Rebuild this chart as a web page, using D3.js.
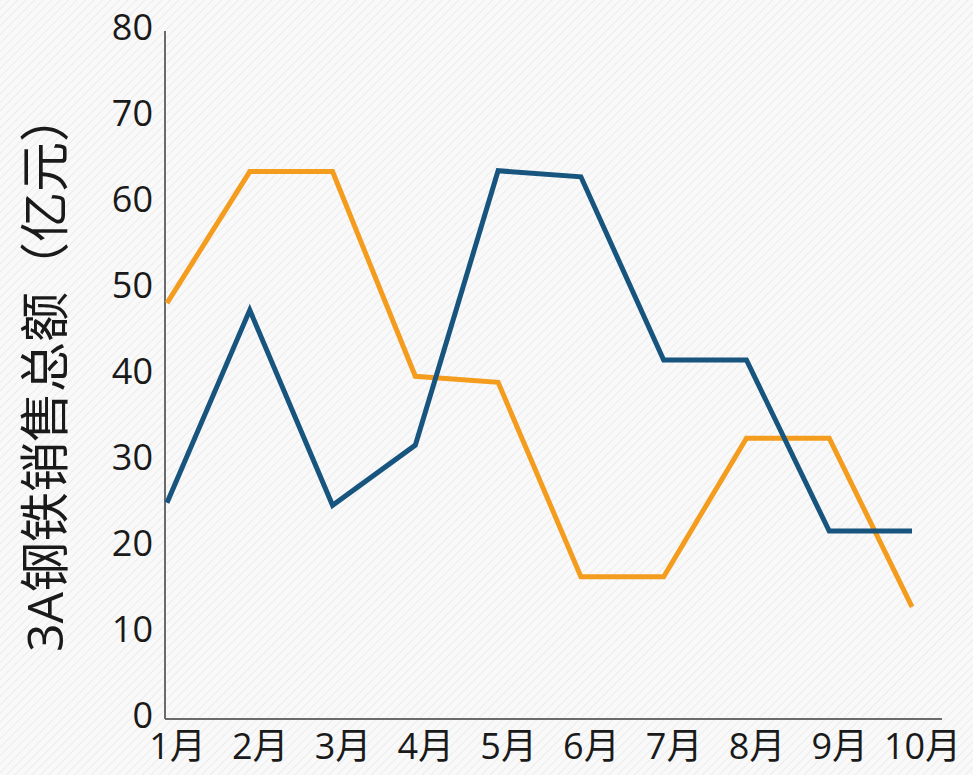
<!DOCTYPE html>
<html>
  <head>
    <meta charset="utf-8">
    <title>3A钢铁销售总额</title>
    <script src="https://d3js.org/d3.v7.min.js"></script>
    <style>
    body {
      margin: 0;
      background: #f8f8f8;
    }
    .tick text {
      font-family: "Open Sans", "Noto Sans CJK SC", sans-serif;
      fill: #1a1a1a;
    }
    .axis-line {
      stroke: #6b6b6b;
      stroke-width: 2px;
    }
    .line {
      fill: none;
      stroke-width: 5px;
      stroke-linejoin: miter;
    }
    </style>
  </head>
  <body>
<script>

// months on the x axis
var months = ["1月", "2月", "3月", "4月", "5月", "6月", "7月", "8月", "9月", "10月"];
// (亿元)
var orangeValues = [48, 63.3, 63.3, 39.5, 38.8, 16.2, 16.2, 32.3, 32.3, 12.7];
var blueValues = [24.8, 47.2, 24.5, 31.5, 63.4, 62.7, 41.4, 41.4, 21.5, 21.5];
var yTicks = [0, 10, 20, 30, 40, 50, 60, 70, 80];
var yTitle = "3A钢铁销售总额（亿元）";

var width = 973, height = 775;

var x = d3.scalePoint().domain(months).range([167, 912]);
var y = d3.scaleLinear().domain([0, 80]).range([716, 28]);

var svg = d3.select("body").append("svg")
    .attr("width", width)
    .attr("height", height);

// faint diagonal hatching of the background
var defs = svg.append("defs");
var pattern = defs.append("pattern")
    .attr("id", "hatch")
    .attr("width", 6)
    .attr("height", 6)
    .attr("patternUnits", "userSpaceOnUse")
    .attr("patternTransform", "rotate(45)");
pattern.append("rect").attr("width", 6).attr("height", 6).attr("fill", "#f9f9f9");
pattern.append("line")
    .attr("x1", 0).attr("y1", 0).attr("x2", 0).attr("y2", 6)
    .attr("stroke", "#ececec")
    .attr("stroke-width", 2);

svg.append("rect")
    .attr("width", width)
    .attr("height", height)
    .attr("fill", "url(#hatch)");

// y axis
var yAxis = svg.append("g")
    .attr("transform", "translate(165,0)")
    .call(d3.axisLeft(y).tickValues(yTicks).tickSize(0).tickPadding(12));
yAxis.select(".domain").remove();
yAxis.selectAll(".tick text").style("font-size", "36px");

// x axis labels, sit a bit right of the points
var xAxis = svg.append("g")
    .attr("transform", "translate(0," + (y(0) + 3) + ")")
    .call(d3.axisBottom(x).tickSize(0).tickPadding(14));
xAxis.select(".domain").remove();
xAxis.selectAll(".tick text")
    .attr("dx", 10)
    .style("font-size", "36px");

// the two axis lines
svg.append("line")
    .attr("class", "axis-line")
    .attr("x1", x.range()[0] - 2).attr("x2", x.range()[0] - 2)
    .attr("y1", y(80) + 3).attr("y2", y(0) + 3);
svg.append("line")
    .attr("class", "axis-line")
    .attr("x1", x.range()[0] - 2).attr("x2", x.range()[1] + 30)
    .attr("y1", y(0) + 3).attr("y2", y(0) + 3);

// y title
svg.append("text")
    .attr("transform", "translate(63," + ((y(0) + y(80)) / 2) + ") rotate(-90)")
    .style("text-anchor", "middle")
    .style("font-family", "\"Open Sans\", \"Noto Sans CJK SC\", sans-serif")
    .style("font-size", "50px")
    .style("fill", "#1a1a1a")
    .text(yTitle);

var valueline = d3.line()
    .x(function(d, i) { return x(months[i]); })
    .y(function(d) { return y(d); });

svg.append("path")
    .data([orangeValues])
    .attr("class", "line")
    .attr("stroke", "#f39c1e")
    .attr("d", valueline);

svg.append("path")
    .data([blueValues])
    .attr("class", "line")
    .attr("stroke", "#17557e")
    .attr("d", valueline);

</script>
</body>
</html>
